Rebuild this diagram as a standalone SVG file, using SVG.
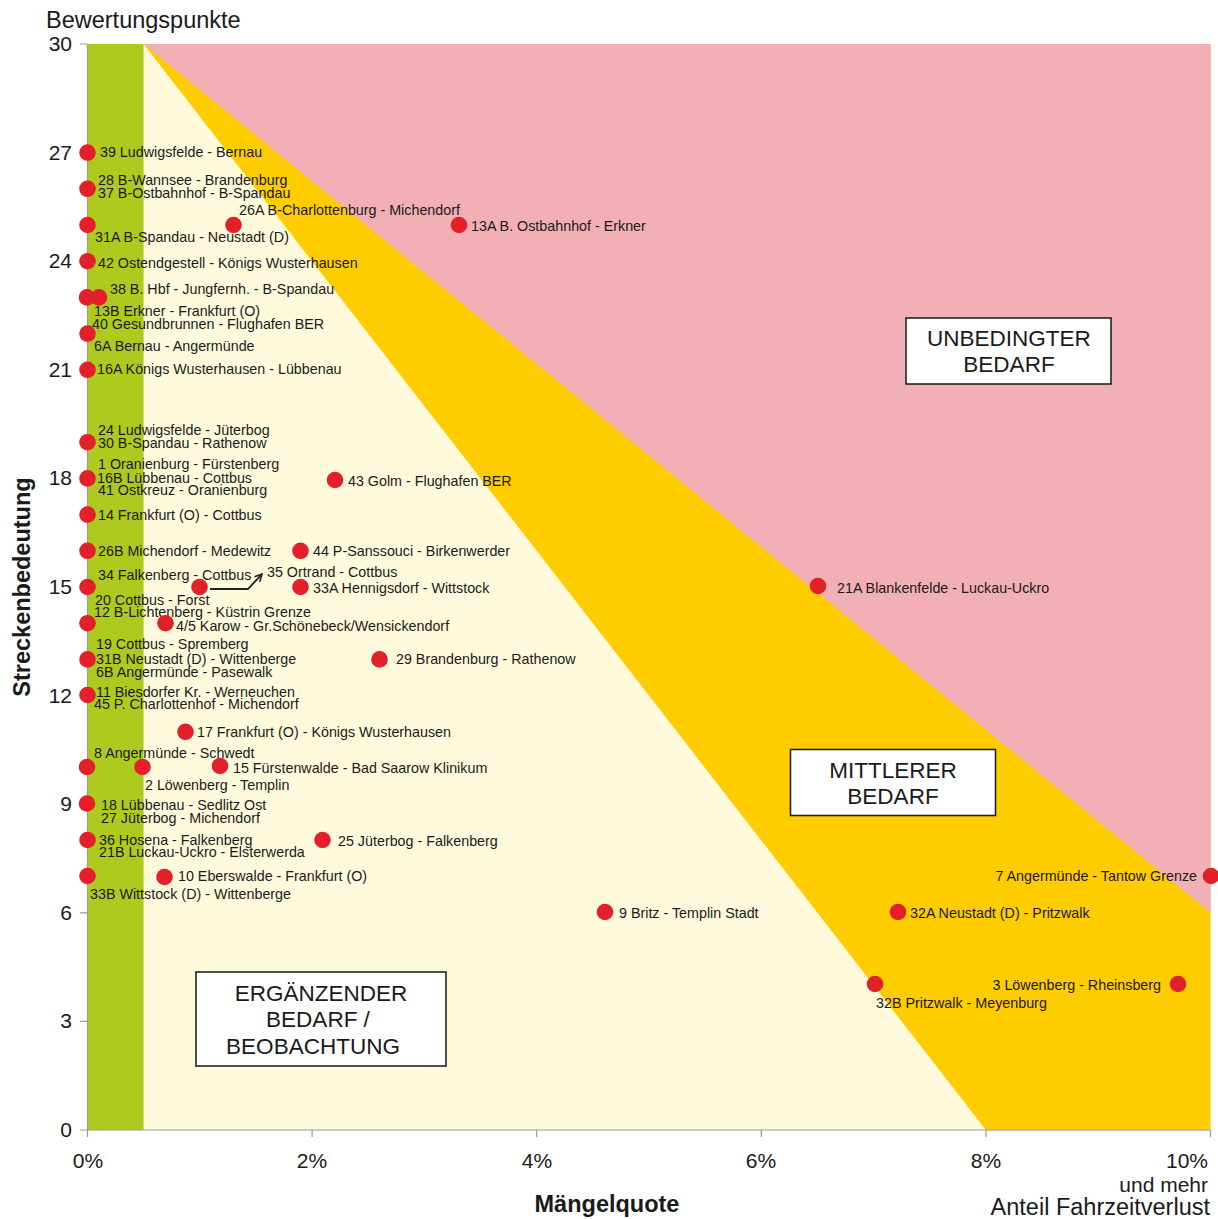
<svg xmlns="http://www.w3.org/2000/svg" width="1218" height="1219" viewBox="0 0 1218 1219">
<style>
text{font-family:"Liberation Sans",Arial,sans-serif;fill:#1a1a1a}
.lb{font-size:14.3px}
.tk{font-size:21px}
.bx{font-size:22.5px;text-anchor:middle}
.ttl{font-size:23.5px}
.b{font-weight:bold}
.dot{fill:#e3202a}
.box{fill:#fff;stroke:#222;stroke-width:1.6}
.ax{stroke:#9a9a9a;stroke-width:1.2;fill:none}
.end{text-anchor:end}
.mid{text-anchor:middle}
</style>
<defs>
<marker id="arr" viewBox="0 0 10 10" refX="9" refY="5" markerWidth="9" markerHeight="9" orient="auto" markerUnits="userSpaceOnUse">
<polyline points="1,1 9,5 1,9" fill="none" stroke="#222" stroke-width="1.8"/>
</marker>
</defs>
<rect width="1218" height="1219" fill="#fff"/>
<g id="regions">
<rect x="143.6" y="44" width="1067" height="1086" fill="#fffadc"/>
<polygon points="143.6,44 1210.5,44 1210.5,1130 985.9,1130" fill="#ffcc00"/>
<polygon points="143.6,44 1210.5,44 1210.5,912.8" fill="#f2b0b6"/>
<rect x="87.5" y="44" width="56.1" height="1086" fill="#afca1e"/>
</g>
<g id="axes">
<path class="ax" d="M87.5,44V1130H1210.5"/>
<path class="ax" d="M80,44H87.5M80,152.6H87.5M80,261.2H87.5M80,369.8H87.5M80,478.4H87.5M80,587H87.5M80,695.6H87.5M80,804.2H87.5M80,912.8H87.5M80,1021.4H87.5M80,1130H87.5"/>
<path class="ax" d="M87.5,1130V1137M312.1,1130V1137M536.7,1130V1137M761.3,1130V1137M985.9,1130V1137M1210.5,1130V1137"/>
<g class="tk end">
<text x="72" y="51">30</text>
<text x="72" y="160">27</text>
<text x="72" y="268">24</text>
<text x="72" y="377">21</text>
<text x="72" y="485">18</text>
<text x="72" y="594">15</text>
<text x="72" y="703">12</text>
<text x="72" y="811">9</text>
<text x="72" y="920">6</text>
<text x="72" y="1028">3</text>
<text x="72" y="1137">0</text>
</g>
<g class="tk mid">
<text x="88" y="1168">0%</text>
<text x="312" y="1168">2%</text>
<text x="537" y="1168">4%</text>
<text x="761" y="1168">6%</text>
<text x="986" y="1168">8%</text>
</g>
<text class="tk end" x="1208" y="1168">10%</text>
<text class="tk end" x="1208" y="1192">und mehr</text>
<text class="ttl end" x="1210" y="1215">Anteil Fahrzeitverlust</text>
<text class="ttl" x="46" y="28">Bewertungspunkte</text>
<text class="ttl b mid" x="607" y="1212">Mängelquote</text>
<text class="ttl b mid" transform="translate(30,587) rotate(-90)">Streckenbedeutung</text>
</g>
<g id="box-unbedingt">
<rect class="box" x="906" y="318" width="205" height="66"/>
<text class="bx" x="1009" y="346">UNBEDINGTER</text>
<text class="bx" x="1009" y="372">BEDARF</text>
</g>
<g id="box-mittlerer">
<rect class="box" x="790.5" y="749.5" width="205" height="66"/>
<text class="bx" x="893" y="778">MITTLERER</text>
<text class="bx" x="893" y="804">BEDARF</text>
</g>
<g id="box-ergaenzend">
<rect class="box" x="196" y="972" width="250" height="94"/>
<text class="bx" x="321" y="1001">ERGÄNZENDER</text>
<text class="bx" x="318" y="1027">BEDARF /</text>
<text class="bx" x="313" y="1054">BEOBACHTUNG</text>
</g>
<g id="connectors">
<path d="M210,589H248L262,574" fill="none" stroke="#222" stroke-width="1.8" marker-end="url(#arr)"/>
</g>
<g id="points" class="lb">
<g id="p39"><circle class="dot" cx="87.5" cy="152.6" r="8.3"/><text x="100" y="157">39 Ludwigsfelde - Bernau</text></g>
<g id="p28-37"><circle class="dot" cx="87.5" cy="188.8" r="8.3"/><text x="98" y="185">28 B-Wannsee - Brandenburg</text><text x="98" y="198">37 B-Ostbahnhof - B-Spandau</text></g>
<g id="p31A"><circle class="dot" cx="87.5" cy="225" r="8.3"/><text x="95" y="242">31A B-Spandau - Neustadt (D)</text></g>
<g id="p26A"><circle class="dot" cx="233.5" cy="225" r="8.3"/><text x="239" y="215">26A B-Charlottenburg - Michendorf</text></g>
<g id="p13A"><circle class="dot" cx="459" cy="225" r="8.3"/><text x="471" y="231">13A B. Ostbahnhof - Erkner</text></g>
<g id="p42"><circle class="dot" cx="87.5" cy="261.2" r="8.3"/><text x="98" y="268">42 Ostendgestell - Königs Wusterhausen</text></g>
<g id="p13B"><circle class="dot" cx="87" cy="297.4" r="8.3"/><text x="94" y="316">13B Erkner - Frankfurt (O)</text></g>
<g id="p38"><circle class="dot" cx="99" cy="297.4" r="8.3"/><text x="110" y="294">38 B. Hbf - Jungfernh. - B-Spandau</text></g>
<g id="p40-6A"><circle class="dot" cx="87.5" cy="333.6" r="8.3"/><text x="92" y="329">40 Gesundbrunnen - Flughafen BER</text><text x="94" y="351">6A Bernau - Angermünde</text></g>
<g id="p16A"><circle class="dot" cx="87.5" cy="369.8" r="8.3"/><text x="97" y="374">16A Königs Wusterhausen - Lübbenau</text></g>
<g id="p24-30"><circle class="dot" cx="87.5" cy="442.2" r="8.3"/><text x="98" y="435">24 Ludwigsfelde - Jüterbog</text><text x="98" y="448">30 B-Spandau - Rathenow</text></g>
<g id="p1-16B-41"><circle class="dot" cx="87.5" cy="478.4" r="8.3"/><text x="98" y="469">1 Oranienburg - Fürstenberg</text><text x="97" y="483">16B Lübbenau - Cottbus</text><text x="98" y="495">41 Ostkreuz - Oranienburg</text></g>
<g id="p43"><circle class="dot" cx="335" cy="480" r="8.3"/><text x="348" y="486">43 Golm - Flughafen BER</text></g>
<g id="p14"><circle class="dot" cx="87.5" cy="514.6" r="8.3"/><text x="98" y="520">14 Frankfurt (O) - Cottbus</text></g>
<g id="p26B"><circle class="dot" cx="87.5" cy="550.8" r="8.3"/><text x="98" y="556">26B Michendorf - Medewitz</text></g>
<g id="p44"><circle class="dot" cx="300.5" cy="550.8" r="8.3"/><text x="313" y="556">44 P-Sanssouci - Birkenwerder</text></g>
<g id="p34-20"><circle class="dot" cx="87.5" cy="587" r="8.3"/><text x="98" y="580">34 Falkenberg - Cottbus</text><text x="95" y="605">20 Cottbus - Forst</text></g>
<g id="p35"><circle class="dot" cx="199.5" cy="587" r="8.3"/><text x="267" y="577">35 Ortrand - Cottbus</text></g>
<g id="p33A"><circle class="dot" cx="300.5" cy="587" r="8.3"/><text x="313" y="593">33A Hennigsdorf - Wittstock</text></g>
<g id="p21A"><circle class="dot" cx="818" cy="586" r="8.3"/><text x="837" y="593">21A Blankenfelde - Luckau-Uckro</text></g>
<g id="p12"><circle class="dot" cx="87.5" cy="623.2" r="8.3"/><text x="94" y="617">12 B-Lichtenberg - Küstrin Grenze</text></g>
<g id="p4-5"><circle class="dot" cx="165.5" cy="623.2" r="8.3"/><text x="176" y="631">4/5 Karow - Gr.Schönebeck/Wensickendorf</text></g>
<g id="p19-31B-6B"><circle class="dot" cx="87.5" cy="659.4" r="8.3"/><text x="96" y="649">19 Cottbus - Spremberg</text><text x="96" y="664">31B Neustadt (D) - Wittenberge</text><text x="96" y="677">6B Angermünde - Pasewalk</text></g>
<g id="p29"><circle class="dot" cx="379.5" cy="659.4" r="8.3"/><text x="396" y="664">29 Brandenburg - Rathenow</text></g>
<g id="p11-45"><circle class="dot" cx="87.5" cy="695" r="8.3"/><text x="96" y="697">11 Biesdorfer Kr. - Werneuchen</text><text x="94" y="709">45 P. Charlottenhof - Michendorf</text></g>
<g id="p17"><circle class="dot" cx="185.5" cy="731.8" r="8.3"/><text x="197" y="737">17 Frankfurt (O) - Königs Wusterhausen</text></g>
<g id="p8"><circle class="dot" cx="87" cy="767" r="8.3"/><text x="94" y="758">8 Angermünde - Schwedt</text></g>
<g id="p2"><circle class="dot" cx="142.5" cy="767" r="8.3"/><text x="145" y="790">2 Löwenberg - Templin</text></g>
<g id="p15"><circle class="dot" cx="220" cy="766" r="8.3"/><text x="233" y="773">15 Fürstenwalde - Bad Saarow Klinikum</text></g>
<g id="p18-27"><circle class="dot" cx="87" cy="803.5" r="8.3"/><text x="101" y="810">18 Lübbenau - Sedlitz Ost</text><text x="101" y="823">27 Jüterbog - Michendorf</text></g>
<g id="p36-21B"><circle class="dot" cx="87.5" cy="840" r="8.3"/><text x="99" y="845">36 Hosena - Falkenberg</text><text x="99" y="857">21B Luckau-Uckro - Elsterwerda</text></g>
<g id="p25"><circle class="dot" cx="322.5" cy="840" r="8.3"/><text x="338" y="846">25 Jüterbog - Falkenberg</text></g>
<g id="p33B"><circle class="dot" cx="87.5" cy="876" r="8.3"/><text x="90" y="899">33B Wittstock (D) - Wittenberge</text></g>
<g id="p10"><circle class="dot" cx="164.5" cy="877" r="8.3"/><text x="178" y="881">10 Eberswalde - Frankfurt (O)</text></g>
<g id="p9"><circle class="dot" cx="605" cy="912" r="8.3"/><text x="619" y="918">9 Britz - Templin Stadt</text></g>
<g id="p32A"><circle class="dot" cx="898" cy="912" r="8.3"/><text x="910" y="918">32A Neustadt (D) - Pritzwalk</text></g>
<g id="p7"><circle class="dot" cx="1211" cy="876" r="8.3"/><text class="end" x="1197" y="881">7 Angermünde - Tantow Grenze</text></g>
<g id="p32B"><circle class="dot" cx="875" cy="984" r="8.3"/><text x="876" y="1008">32B Pritzwalk - Meyenburg</text></g>
<g id="p3"><circle class="dot" cx="1178" cy="984" r="8.3"/><text class="end" x="1161" y="990">3 Löwenberg - Rheinsberg</text></g>
</g>
</svg>
